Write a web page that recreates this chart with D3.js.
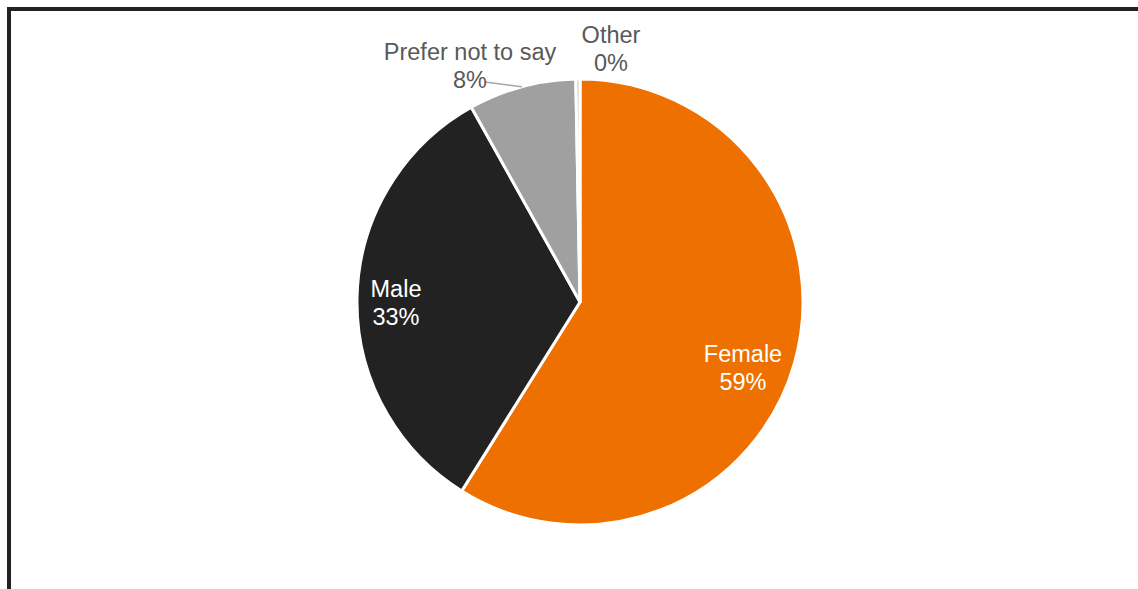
<!DOCTYPE html>
<html>
<head>
<meta charset="utf-8">
<script src="https://cdn.jsdelivr.net/npm/d3@7.9.0/dist/d3.min.js"></script>
<style>
  html, body { margin: 0; padding: 0; background: #fff; }
  svg { display: block; font-family: "Liberation Sans", Arial, sans-serif; }
</style>
</head>
<body>
<div id="chart"></div>
<script>
const categories = ['Female', 'Male', 'Prefer not to say', 'Other'];
const values = [58.9, 33.0, 7.8, 0.3];
const labels = ['59%', '33%', '8%', '0%'];
const colors = ['#ed7000', '#222222', '#a0a0a0', '#c8c8c8'];

const width = 1138;
const height = 589;
const cx = 580, cy = 302, radius = 223;

const svg = d3.select('#chart')
  .append('svg')
  .attr('width', width)
  .attr('height', height);

// frame (runs off the right and bottom edges)
svg.append('rect')
  .attr('x', 9).attr('y', 9)
  .attr('width', 1160).attr('height', 620)
  .attr('fill', 'none')
  .attr('stroke', '#222')
  .attr('stroke-width', 4);

const data = categories.map((c, i) => ({ name: c, value: values[i], label: labels[i], color: colors[i] }));

const pie = d3.pie().sort(null).value(d => d.value);
const arcs = pie(data);
const arc = d3.arc().innerRadius(0).outerRadius(radius);

const g = svg.append('g').attr('transform', `translate(${cx},${cy})`);

g.selectAll('path')
  .data(arcs)
  .join('path')
  .attr('d', arc)
  .attr('fill', d => d.data.color)
  .attr('stroke', '#fff')
  .attr('stroke-width', 3)
  .attr('stroke-linejoin', 'round');

// label placement relative to centre: [x, first baseline, colour]
const labelPos = {
  'Female': [163, 60, '#fff'],
  'Male': [-184, -5, '#fff'],
  'Prefer not to say': [-110, -242, '#595959'],
  'Other': [31, -259, '#595959']
};

// leader line for "Prefer not to say"
const pn = arcs[2];
const pnAngle = (pn.startAngle + pn.endAngle) / 2 + 2 * Math.PI;
g.append('polyline')
  .attr('points', [
    [-95, -220],
    [Math.sin(pnAngle) * radius, -Math.cos(pnAngle) * radius]
  ].map(p => p.join(',')).join(' '))
  .attr('fill', 'none')
  .attr('stroke', '#a6a6a6')
  .attr('stroke-width', 1.5);

const lbl = g.selectAll('text.lbl')
  .data(arcs)
  .join('text')
  .attr('class', 'lbl')
  .attr('text-anchor', 'middle')
  .attr('font-size', 23.5)
  .attr('fill', d => labelPos[d.data.name][2])
  .attr('transform', d => `translate(${labelPos[d.data.name][0]},${labelPos[d.data.name][1]})`);

lbl.append('tspan').attr('x', 0).attr('y', 0).text(d => d.data.name);
lbl.append('tspan').attr('x', 0).attr('y', 27.5).text(d => d.data.label);
</script>
</body>
</html>
